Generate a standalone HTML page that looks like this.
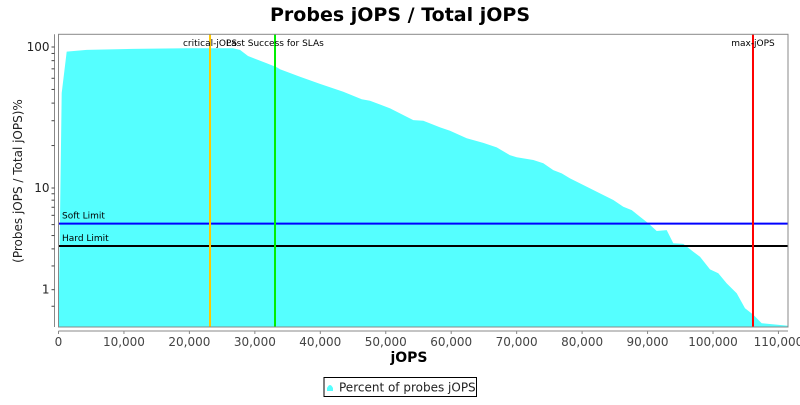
<!DOCTYPE html>
<html><head><meta charset="utf-8"><style>
body{margin:0;background:#fff;}
svg text{font-family:"DejaVu Sans","Liberation Sans",sans-serif;}
</style></head><body>
<svg id="chart" width="800" height="400" xmlns="http://www.w3.org/2000/svg">
<rect width="800" height="400" fill="#fff"/>
<text x="400" y="21" text-anchor="middle" font-size="19" font-weight="bold">Probes jOPS / Total jOPS</text>
<g id="plot"></g>
<text x="409" y="362" text-anchor="middle" font-size="14" font-weight="bold">jOPS</text>
<text transform="translate(22,181) rotate(-90)" text-anchor="middle" font-size="12" fill="#222">(Probes jOPS / Total jOPS)%</text>
<g>
<rect x="324" y="377.5" width="152.5" height="19" fill="#fff" stroke="#000"/>
<path d="M327,391 L327,388 Q330,382 333,388 L333,391 Z" fill="#55ffff"/>
<text x="339" y="391.5" font-size="12" fill="#222">Percent of probes jOPS</text>
</g>
</svg>
<script>
const jops = [0,490,1250,4310,11380,19590,26660,27730,28960,31810,33340,33840,36900,39950,43510,46330,47600,50660,54210,55740,58300,59820,62370,64900,66950,68960,70010,72540,74070,75600,76880,78150,80180,82730,84770,86300,87580,88850,90110,91400,92930,93940,95460,96990,98010,99540,100810,102090,103620,104890,106160,107440,111460];
const pct = [0,47.2,92.7,95.3,96.9,97.9,97.9,95.3,86.3,76.6,71.8,69.5,61.5,54.7,48.2,42.6,41.6,36.7,30.3,30.0,26.9,25.5,22.5,20.9,19.4,17.1,16.5,15.8,15.0,13.4,12.7,11.7,10.5,9.07,8.02,7.08,6.64,5.84,5.13,4.39,4.48,3.40,3.35,2.81,2.51,1.83,1.65,1.23,0.88,0.45,0.29,0.11,0.06];
const xTicks = [0,10000,20000,30000,40000,50000,60000,70000,80000,90000,100000,110000];
const yTicks = [1,10,100];
const markerNames = ["critical-jOPS","Last Success for SLAs","max-jOPS"];
const markerValues = [23150,33080,106110];
const markerColors = ["#ffc800","#00ee00","#ff0000"];
const limitNames = ["Soft Limit","Hard Limit"];
const limitValues = [5.1,3.2];
const limitColors = ["#0000ff","#000000"];

const L=58.5,R=788,T=34.3,B=327;
const NS="http://www.w3.org/2000/svg";
function xs(v){return L+v*0.006545;}
function lg(v){v=Math.max(v,0);const u=v<10?v+(10-v)/10:v;return Math.log10(u);}
function ys(v){return 188-141*(lg(v)-1);}
const g=document.getElementById('plot');
function mk(tag,attrs,parent){const e=document.createElementNS(NS,tag);for(const k in attrs)e.setAttribute(k,attrs[k]);(parent||g).appendChild(e);return e;}

const clip=mk('clipPath',{id:'pc'});mk('rect',{x:L,y:T,width:R-L,height:B-T},clip);
let d='M'+xs(jops[0])+','+B;
for(let i=0;i<jops.length;i++)d+=' L'+xs(jops[i]).toFixed(1)+','+ys(pct[i]).toFixed(1);
d+=' L'+xs(jops[jops.length-1]).toFixed(1)+','+B+' Z';
const area=mk('path',{d:d,fill:'#55ffff','clip-path':'url(#pc)'});



limitValues.forEach((v,i)=>{
 const y=ys(v);
 const ln=mk('line',{x1:L,x2:R,y1:y,y2:y,stroke:limitColors[i],'stroke-width':2});
 
 
 const t=mk('text',{x:62,y:y-5,'font-size':9,fill:'#000'});t.textContent=limitNames[i];
 
 
});
markerValues.forEach((v,i)=>{
 const x=xs(v);
 const ln=mk('line',{x1:x,x2:x,y1:T,y2:B,stroke:markerColors[i],'stroke-width':2});
 
 
 const t=mk('text',{x:x,y:46,'font-size':9,'text-anchor':'middle',fill:'#000'});t.textContent=markerNames[i];
 
 
});
const fr=mk('rect',{x:L,y:T,width:R-L,height:B-T,fill:'none',stroke:'#888','stroke-width':1});



// x axis
const xa=mk('line',{x1:L,x2:R,y1:B+4,y2:B+4,stroke:'#888'});


xTicks.forEach(v=>{
 const x=xs(v);
 mk('line',{x1:x,x2:x,y1:B+4,y2:B+7,stroke:'#888'});
 const t=mk('text',{x:x,y:B+19,'font-size':12,'text-anchor':'middle',fill:'#444'});
 t.textContent=v.toLocaleString('en-US');
 
 
});
// y axis
const ya=mk('line',{x1:L-4,x2:L-4,y1:T,y2:B,stroke:'#888'});


for(let dec=1;dec<=100;dec*=10){for(let k=1;k<10;k++){const v=dec*k;if(v>120)break;const y=ys(v);
 mk('line',{x1:L-7,x2:L-4,y1:y,y2:y,stroke:'#444'});}}
mk('line',{x1:L-7,x2:L-4,y1:ys(0.5),y2:ys(0.5),stroke:'#444'});
yTicks.forEach(v=>{
 const y=ys(v);
 const t=mk('text',{x:L-9,y:y+4,'font-size':12,'text-anchor':'end',fill:'#222'});
 t.textContent=String(v);
 
 
});
</script>
</body></html>
